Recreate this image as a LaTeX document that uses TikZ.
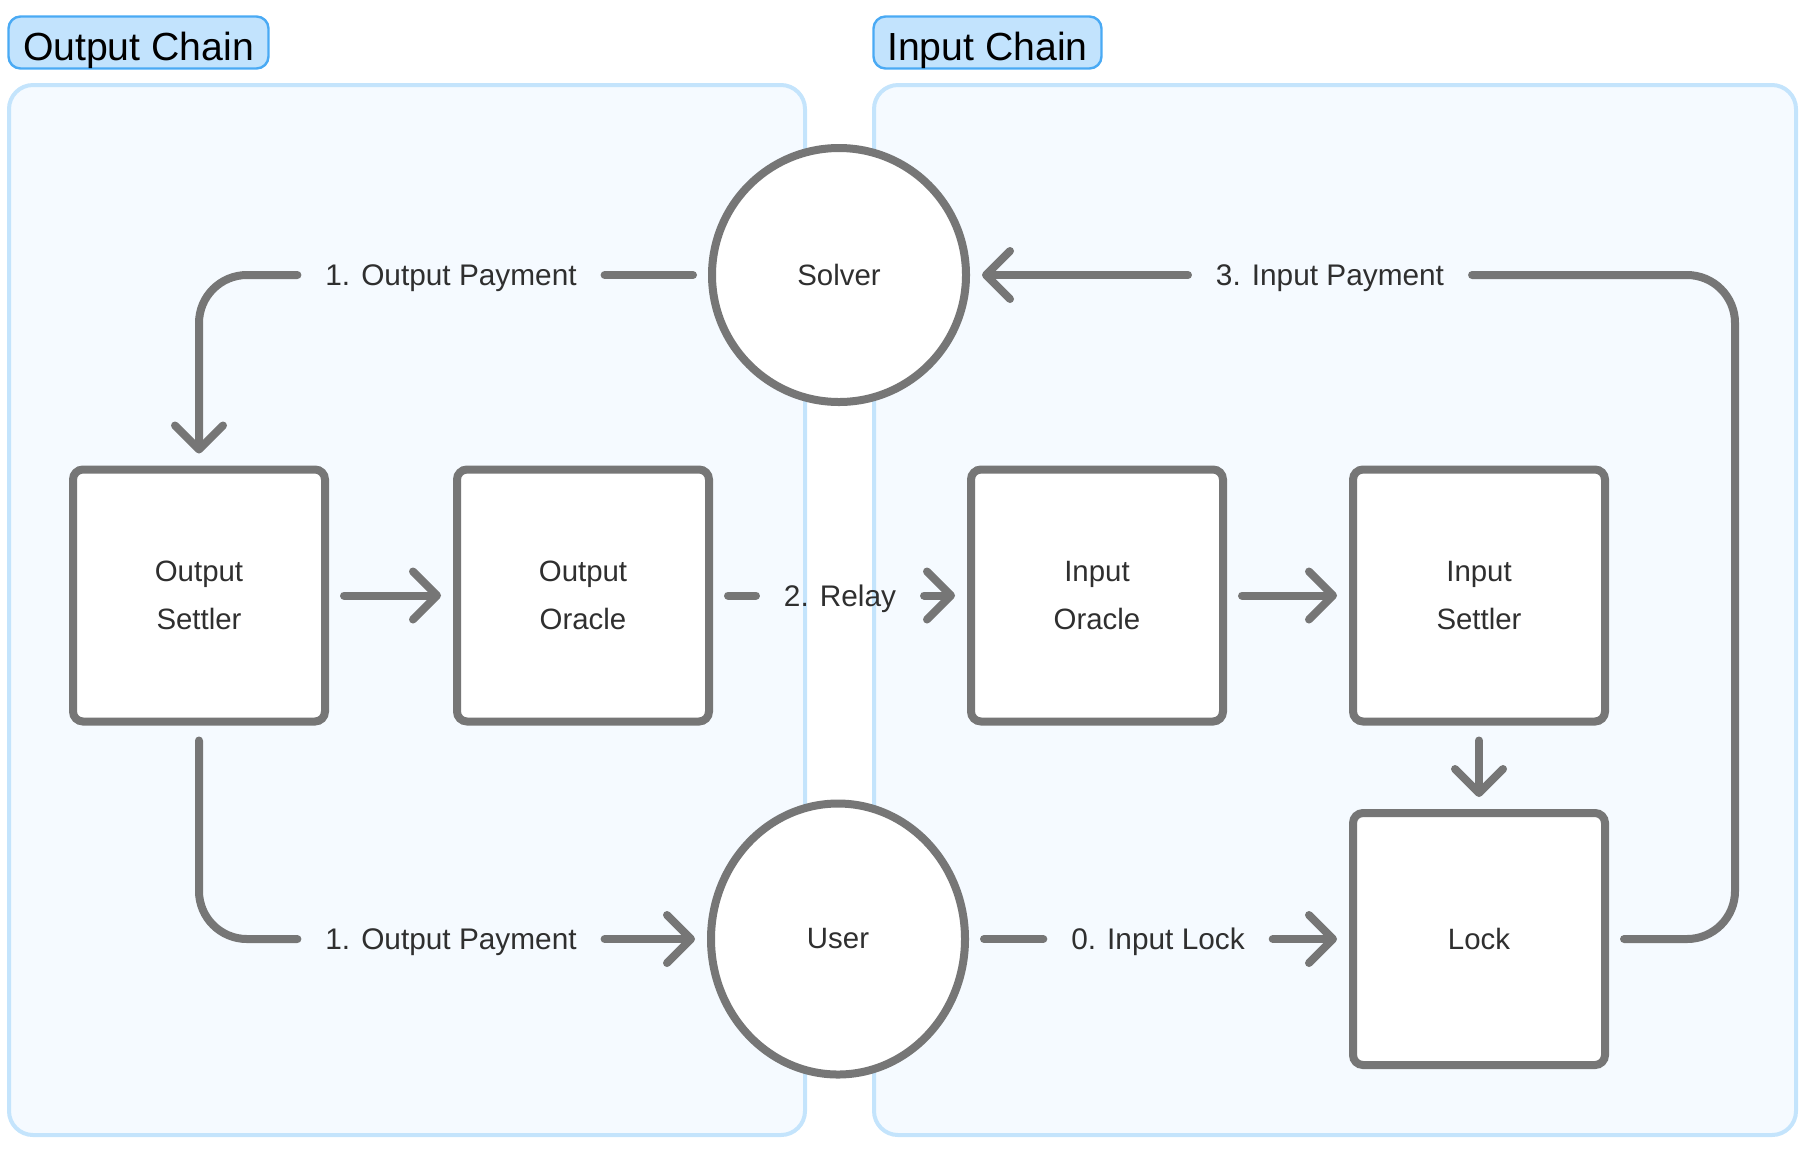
\documentclass[tikz,border=0pt]{standalone}
\usepackage{fontspec}
\setmainfont{Liberation Sans}
\usepackage{tikz}
\usetikzlibrary{arrows.meta,shapes.geometric}
\definecolor{linegray}{HTML}{767676}
\definecolor{textgray}{HTML}{2F2F2F}
\definecolor{panelfill}{HTML}{F5FAFF}
\definecolor{panelline}{HTML}{C4E4FC}
\definecolor{tagfill}{HTML}{C2E3FD}
\definecolor{tagline}{HTML}{4AAAF4}

\begin{document}
\begin{tikzpicture}[x=0.5pt, y=-0.5pt,
            panel/.style = {draw=panelline, fill=panelfill, line width=2pt, rounded corners=12pt},
            tag/.style = {draw=tagline, fill=tagfill, line width=1.2pt, rounded corners=6pt, minimum height=26pt, inner ysep=0pt, text height=17.5pt, text depth=0pt, text=black, font=\fontsize{19.6}{24}\selectfont},
            main/.style = {draw=linegray, fill=white, line width=4pt, text=textgray, align=center, font=\fontsize{14.7}{24}\selectfont},
            box/.style = {main, rectangle, rounded corners=5pt, minimum size=126pt},
            party/.style = {main, circle, minimum size=127pt},
            msg/.style = {outer sep=0pt, inner xsep=14pt, text height=10.5pt, text depth=0pt, text=textgray, font=\fontsize{14.9}{18}\selectfont},
            link/.style = {draw=linegray, line width=4pt, line cap=round, rounded corners=24pt, shorten <=7.5pt},
            arr/.style = {draw=linegray, line width=4pt, line cap=round, rounded corners=24pt, shorten >=6pt, -{Straight Barb[length=12pt, width=24pt, round]}}]
            \useasboundingbox (0,0) rectangle (1807,1153);
            \draw[panel] (9,85) rectangle (805,1135);
            \draw[panel] (874,85) rectangle (1796,1135);
            \node[tag, minimum width=130pt] (outchain) at (138.5,42.5) {Output Chain};
            \node[tag, minimum width=114pt] (inchain) at (987.5,42.5) {Input Chain};

            \node[party] (S) at (839,275) {Solver};
            \node[main, ellipse, minimum width=127pt, minimum height=135.5pt] (U) at (838,939) {User};
            \node[box] (OS) at (199,595.5) {Output\\Settler};
            \node[box] (OO) at (583,595.5) {Output\\Oracle};
            \node[box] (IO) at (1097,595.5) {Input\\Oracle};
            \node[box] (IS) at (1479,595.5) {Input\\Settler};
            \node[box] (L) at (1479,939) {Lock};

            \node[msg] (P1) at (451,275) {1. Output Payment};
            \node[msg] (P2) at (451,939) {1. Output Payment};
            \node[msg] (R) at (840,595.5) {2. Relay};
            \node[msg] (IL) at (1158,939) {0. Input Lock};
            \node[msg] (IP) at (1330,275) {3. Input Payment};
            \coordinate (c3) at (1735,275);

            \draw[link] (S) -- (P1);
            \draw[arr] (P1) -| (OS);
            \draw[link] (OS) |- (P2);
            \draw[arr] (P2) -- (U);
            \draw[arr, shorten <=7.5pt] (OS) -- (OO);
            \draw[link] (OO) -- (R);
            \draw[arr] (R) -- (IO);
            \draw[arr, shorten <=7.5pt] (IO) -- (IS);
            \draw[arr, shorten <=7.5pt] (IS) -- (L);
            \draw[link] (U) -- (IL);
            \draw[arr] (IL) -- (L);
            \draw[link] (L) -| (c3) -- (IP);
            \draw[arr] (IP) -- (S);
\end{tikzpicture}
\end{document}
